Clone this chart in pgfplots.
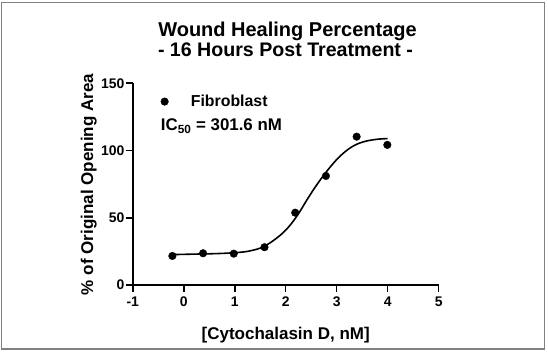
\documentclass[border=0pt]{standalone}
\usepackage{graphicx}
\usepackage{pgfplots}
\pgfplotsset{compat=1.18}
\usepackage{fontspec}
\setmainfont{Liberation Sans}
\newcommand\ticksz{\fontsize{14}{16}\selectfont\bfseries}
\newcommand\bigbf{\fontsize{17}{20}\selectfont\bfseries}
\pgfplotsset{dotlegend/.style={legend image code/.code={\path (-4bp,0bp) (24bp,0bp); \draw[##1] plot coordinates {(0bp,0bp)};}}}
\begin{document}
\begin{tikzpicture}
\useasboundingbox (0bp,0bp) rectangle (548bp,353bp);
\draw[line width=1.2bp, color=black!50] (1.5bp,4bp) rectangle (544.8bp,350.2bp);
\begin{axis}[
  at={(132.7bp,68bp)}, anchor=south west,
  scale only axis, width=306bp, height=201.7bp,
  xmin=-1, xmax=5, ymin=0, ymax=150,
  axis x line*=bottom, axis y line*=left,
  axis line style={line width=1.6bp},
  every tick/.style={black, line width=1.6bp},
  tick align=outside, major tick length=7bp,
  xtick={-1,0,1,2,3,4,5},
  xticklabels={\ticksz -1,\ticksz 0,\ticksz 1,\ticksz 2,\ticksz 3,\ticksz 4,\ticksz 5},
  ytick={0,50,100,150},
  yticklabels={\ticksz 0,\ticksz 50,\ticksz 100,\ticksz 150},
  xticklabel style={yshift=-1bp},
  yticklabel style={inner sep=1bp},
  clip=false,
  legend style={at={(axis cs:-0.46,136.4)}, anchor=west, draw=none, fill=none,
    inner sep=0pt},
  legend cell align=left,
]
\addplot[only marks, mark=*, mark size=3.8bp, color=black, dotlegend]
  coordinates {
  (-0.222,21.6) (0.380,23.6) (0.982,23.3) (1.584,28.1)
  (2.186,53.8) (2.789,81.1) (3.391,110.3) (3.993,104.2)
  };
\addlegendentry{\resizebox{76.7bp}{!}{\bigbf Fibroblast}}
\addplot[forget plot, black, line width=1.6bp, smooth, no marks] coordinates {
  (-0.22,22.6) (0.0,22.8) (0.25,23.0) (0.5,23.2) (0.75,23.5) (1.0,24.0)
  (1.25,25.0) (1.5,27.4) (1.7,31.5) (1.9,37.2) (2.0,40.8) (2.1,45.1)
  (2.2,50.2) (2.3,56.0) (2.4,62.3) (2.5,68.3) (2.6,74.0) (2.7,79.3)
  (2.8,84.3) (2.9,89.0) (3.0,93.3) (3.1,97.0) (3.2,100.2) (3.3,102.8)
  (3.4,104.8) (3.5,106.2) (3.6,107.2) (3.7,107.9) (3.8,108.4) (3.9,108.7)
  (4.0,108.9)
  };
\end{axis}
\node[anchor=base, inner sep=0pt] at (287.5bp,316.3bp) {\resizebox{258.4bp}{!}{\bigbf Wound Healing Percentage}};
\node[anchor=base, inner sep=0pt] at (285.5bp,296.3bp) {\resizebox{255bp}{!}{\bigbf - 16 Hours Post Treatment -}};
\node[anchor=base west, inner sep=0pt] at (160.7bp,222bp) {\resizebox{121bp}{!}{\bigbf IC\textsubscript{50} = 301.6 nM}};
\node[anchor=base, inner sep=0pt] at (285.7bp,14bp) {\resizebox{168bp}{!}{\bigbf [Cytochalasin D, nM]}};
\node[rotate=90, anchor=base, inner sep=0pt] at (93bp,168.5bp) {\resizebox{221bp}{!}{\bigbf \% of Original Opening Area}};
\end{tikzpicture}
\end{document}
